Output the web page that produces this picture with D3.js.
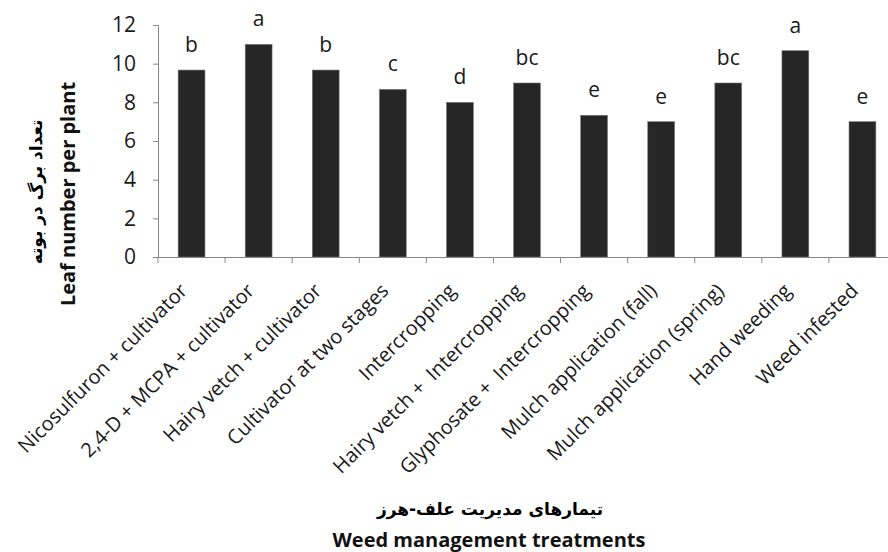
<!DOCTYPE html>
<html>
<head>
<meta charset="utf-8">
<script src="https://cdn.jsdelivr.net/npm/d3@7"></script>
<style>
  body { margin: 0; background: #fff; }
  svg { display: block; }
</style>
</head>
<body>
<div id="chart"></div>
<script>
// data
var treatments = ["Nicosulfuron + cultivator", "2,4-D + MCPA + cultivator", "Hairy vetch + cultivator",
    "Cultivator at two stages", "Intercropping", "Hairy vetch +  Intercropping", "Glyphosate +  Intercropping",
    "Mulch application (fall)", "Mulch application (spring)", "Hand weeding", "Weed infested"];
var leafNumber = [9.67, 11.0, 9.67, 8.67, 8.0, 9.0, 7.33, 7.0, 9.0, 10.67, 7.0];
var letters = ["b", "a", "b", "c", "d", "bc", "e", "e", "bc", "a", "e"];
var yTicks = [0, 2, 4, 6, 8, 10, 12];

var W = 888, H = 552;
var plot = { left: 158, right: 896, top: 25, bottom: 257 };

var svg = d3.select("#chart")
    .append("svg")
    .attr("width", W)
    .attr("height", H)
    .style("font-family", "'Open Sans', sans-serif");

var data = treatments.map(function (t, i) { return { name: t, value: leafNumber[i], letter: letters[i] }; });

var x = d3.scaleBand()
    .domain(treatments)
    .range([plot.left, plot.right])
    .paddingInner(0.6)
    .paddingOuter(0.3);

var y = d3.scaleLinear()
    .domain([0, 12])
    .range([plot.bottom, plot.top]);

// bars
svg.selectAll(".bar")
    .data(data)
    .enter()
    .append("rect")
    .attr("x", function (d) { return x(d.name); })
    .attr("y", function (d) { return y(d.value); })
    .attr("width", x.bandwidth())
    .attr("height", function (d) { return y(0) - y(d.value); })
    .attr("fill", "#262626")
    .attr("stroke", "#777")
    .attr("stroke-width", 0.6);

// letters over the bars
svg.selectAll(".letter")
    .data(data)
    .enter()
    .append("text")
    .attr("x", function (d) { return x(d.name) + x.bandwidth() / 2; })
    .attr("y", function (d) { return y(d.value) - 18; })
    .attr("text-anchor", "middle")
    .style("font-size", "21px")
    .style("fill", "#1a1a1a")
    .text(function (d) { return d.letter; });

// Y axis
var yAxis = svg.append("g")
    .attr("transform", "translate(" + plot.left + ",0)")
    .call(d3.axisLeft(y).tickValues(yTicks).tickSize(5).tickPadding(17));
yAxis.selectAll("text").style("font-size", "21px").style("fill", "#1a1a1a")
    .style("font-family", "'Open Sans', sans-serif");

// X axis, ticks sit on the category borders
var xAxis = svg.append("g")
    .attr("transform", "translate(0," + plot.bottom + ")")
    .call(d3.axisBottom(x).tickSize(0).tickFormat(""));
xAxis.selectAll(".tick").remove();

svg.selectAll(".xtick")
    .data(d3.range(treatments.length + 1))
    .enter()
    .append("line")
    .attr("x1", function (i) { return plot.left + i * x.step(); })
    .attr("x2", function (i) { return plot.left + i * x.step(); })
    .attr("y1", plot.bottom)
    .attr("y2", plot.bottom + 6)
    .attr("stroke", "#868686");

svg.selectAll(".domain").attr("stroke", "#868686");
svg.selectAll(".tick line").attr("stroke", "#868686");

// rotated category labels
svg.selectAll(".xlabel")
    .data(data)
    .enter()
    .append("text")
    .attr("text-anchor", "end")
    .attr("transform", function (d) {
        return "translate(" + (x(d.name) + x.bandwidth() / 2 - 3) + "," + (plot.bottom + 35) + ") rotate(-45)";
    })
    .style("font-size", "20px")
    .style("fill", "#1a1a1a")
    .style("white-space", "pre")
    .text(function (d) { return d.name; });

// Y axis titles
svg.append("text")
    .attr("text-anchor", "middle")
    .attr("transform", "translate(42,192) rotate(-90)")
    .style("font-family", "'DejaVu Sans'")
    .style("font-weight", "bold")
    .style("font-size", "17px")
    .attr("direction", "rtl")
    .text("تعداد برگ در بوته");

svg.append("text")
    .attr("text-anchor", "middle")
    .attr("transform", "translate(75,194) rotate(-90)")
    .style("font-weight", "bold")
    .style("font-size", "20px")
    .style("fill", "#111")
    .text("Leaf number per plant");

// X axis titles
svg.append("text")
    .attr("text-anchor", "middle")
    .attr("x", 490)
    .attr("y", 515)
    .style("font-family", "'DejaVu Sans'")
    .style("font-weight", "bold")
    .style("font-size", "17px")
    .attr("direction", "rtl")
    .text("تیمارهای مدیریت علف-هرز");

svg.append("text")
    .attr("text-anchor", "middle")
    .attr("x", 489)
    .attr("y", 547)
    .style("font-weight", "bold")
    .style("font-size", "20px")
    .style("fill", "#111")
    .text("Weed management treatments");
</script>
</body>
</html>
